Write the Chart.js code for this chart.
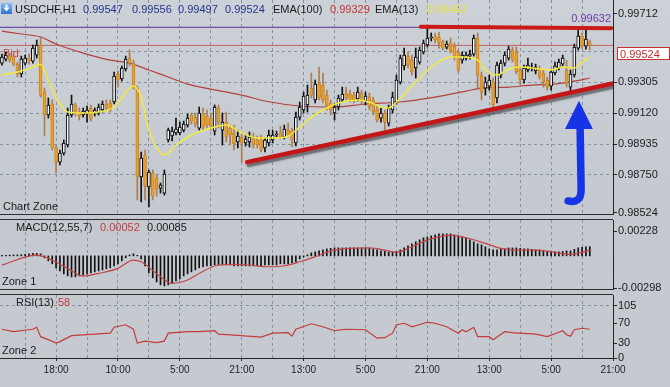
<!DOCTYPE html>
<html>
<head>
<meta charset="utf-8">
<title>USDCHF H1</title>
<script src="https://cdn.jsdelivr.net/npm/chart.js@4.4.1/dist/chart.umd.min.js"></script>
<style>
  html, body { margin:0; padding:0; }
  body { width:670px; height:387px; overflow:hidden; position:relative;
         background: linear-gradient(180deg, #ccd1d7 0%, #c4c9d0 55%, #c6cad0 100%); }
  canvas { position:absolute; left:0; }
</style>
</head>
<body>
<canvas id="mainChart" width="670" height="224" style="top:0"></canvas>
<canvas id="macdChart" width="670" height="80" style="top:216px"></canvas>
<canvas id="rsiChart" width="670" height="97" style="top:290px"></canvas>
<script>
const FONT = "'Liberation Sans', Arial, Helvetica, sans-serif";
const GRID = '#8792a3';
const AXIS = '#262626';

// ---------------- data ----------------
const symbolTitle = 'USDCHF,H1';
const openP = [0.99418,0.99442,0.99460,0.99454,0.99412,0.99353,0.99418,0.99448,0.99430,0.99466,
0.99526,0.99245,0.99108,0.99174,0.98911,0.98827,0.98881,0.98929,0.99108,0.99168,
0.99126,0.99108,0.99114,0.99150,0.99120,0.99120,0.99138,0.99174,0.99180,0.99186,
0.99353,0.99323,0.99383,0.99448,0.99418,0.99269,0.98738,0.98869,0.98678,0.98762,
0.98732,0.98672,0.98642,0.98959,0.98983,0.99001,0.99001,0.99018,0.99048,0.99108,
0.99096,0.99030,0.99114,0.99102,0.99090,0.99012,0.99150,0.99018,0.99066,0.99030,
0.99001,0.98947,0.98977,0.98941,0.98947,0.98971,0.98959,0.98971,0.98911,0.98941,
0.98959,0.98989,0.99001,0.98977,0.99018,0.99012,0.98941,0.99096,0.99138,0.99168,
0.99269,0.99198,0.99299,0.99287,0.99227,0.99180,0.99120,0.99156,0.99198,0.99239,
0.99233,0.99227,0.99204,0.99239,0.99192,0.99215,0.99198,0.99144,0.99090,0.99120,
0.99060,0.99138,0.99186,0.99305,0.99401,0.99460,0.99436,0.99389,0.99424,0.99484,
0.99526,0.99568,0.99580,0.99574,0.99544,0.99514,0.99538,0.99520,0.99484,0.99436,
0.99448,0.99460,0.99472,0.99568,0.99347,0.99269,0.99281,0.99305,0.99210,0.99347,
0.99418,0.99448,0.99496,0.99484,0.99377,0.99317,0.99377,0.99389,0.99371,0.99383,
0.99359,0.99317,0.99281,0.99359,0.99389,0.99412,0.99377,0.99275,0.99347,0.99508,
0.99580,0.99520,0.99547];
const highP = [0.99472,0.99484,0.99478,0.99466,0.99424,0.99460,0.99466,0.99472,0.99526,0.99556,
0.99574,0.99269,0.99210,0.99198,0.98929,0.98899,0.98959,0.99150,0.99227,0.99180,
0.99150,0.99150,0.99162,0.99168,0.99150,0.99174,0.99192,0.99198,0.99198,0.99365,
0.99371,0.99401,0.99460,0.99496,0.99436,0.99281,0.98887,0.98899,0.98780,0.98780,
0.98750,0.98702,0.98780,0.99030,0.99036,0.99090,0.99066,0.99072,0.99114,0.99120,
0.99120,0.99156,0.99150,0.99138,0.99120,0.99168,0.99168,0.99120,0.99126,0.99048,
0.99048,0.99018,0.99001,0.98989,0.99007,0.99001,0.98983,0.98989,0.98971,0.99018,
0.99018,0.99012,0.99042,0.99048,0.99060,0.99030,0.99126,0.99186,0.99245,0.99287,
0.99359,0.99317,0.99395,0.99359,0.99257,0.99198,0.99174,0.99227,0.99275,0.99275,
0.99257,0.99245,0.99275,0.99257,0.99245,0.99239,0.99215,0.99168,0.99150,0.99138,
0.99168,0.99245,0.99347,0.99466,0.99508,0.99484,0.99466,0.99508,0.99514,0.99556,
0.99627,0.99598,0.99598,0.99603,0.99556,0.99550,0.99568,0.99538,0.99496,0.99484,
0.99484,0.99496,0.99586,0.99598,0.99365,0.99335,0.99347,0.99329,0.99424,0.99436,
0.99484,0.99520,0.99514,0.99514,0.99395,0.99406,0.99448,0.99418,0.99412,0.99401,
0.99377,0.99335,0.99377,0.99424,0.99442,0.99466,0.99436,0.99377,0.99532,0.99632,
0.99598,0.99621,0.99556];
const lowP = [0.99406,0.99430,0.99424,0.99401,0.99335,0.99335,0.99406,0.99412,0.99418,0.99448,
0.99215,0.98983,0.99090,0.98899,0.98762,0.98810,0.98869,0.98917,0.99096,0.99102,
0.99078,0.99096,0.99066,0.99072,0.99102,0.99108,0.99126,0.99138,0.99126,0.99174,
0.99275,0.99311,0.99371,0.99401,0.99263,0.98601,0.98589,0.98601,0.98559,0.98601,
0.98624,0.98642,0.98630,0.98947,0.98953,0.98989,0.98989,0.99007,0.99036,0.99054,
0.99036,0.99018,0.99018,0.99030,0.99018,0.98989,0.99030,0.98929,0.98947,0.98929,
0.98899,0.98911,0.98827,0.98923,0.98917,0.98911,0.98911,0.98887,0.98887,0.98923,
0.98941,0.98977,0.98965,0.98965,0.98977,0.98917,0.98923,0.99078,0.99120,0.99126,
0.99210,0.99180,0.99198,0.99180,0.99138,0.99108,0.99078,0.99138,0.99186,0.99198,
0.99186,0.99180,0.99192,0.99174,0.99168,0.99138,0.99108,0.99066,0.99066,0.99018,
0.99042,0.99120,0.99174,0.99293,0.99377,0.99389,0.99347,0.99329,0.99412,0.99472,
0.99514,0.99550,0.99538,0.99508,0.99496,0.99502,0.99478,0.99436,0.99365,0.99418,
0.99436,0.99442,0.99460,0.99269,0.99198,0.99227,0.99257,0.99150,0.99180,0.99329,
0.99401,0.99436,0.99424,0.99353,0.99287,0.99299,0.99365,0.99371,0.99353,0.99323,
0.99275,0.99257,0.99257,0.99347,0.99377,0.99401,0.99275,0.99245,0.99335,0.99496,
0.99508,0.99502,0.99497];
const closeP = [0.99454,0.99466,0.99436,0.99412,0.99353,0.99442,0.99448,0.99430,0.99508,0.99526,
0.99227,0.99108,0.99168,0.98911,0.98827,0.98881,0.98941,0.99108,0.99174,0.99120,
0.99102,0.99132,0.99138,0.99084,0.99138,0.99156,0.99174,0.99150,0.99138,0.99341,
0.99317,0.99389,0.99442,0.99418,0.99275,0.98738,0.98851,0.98684,0.98768,0.98624,
0.98666,0.98690,0.98756,0.99018,0.99012,0.99024,0.99036,0.99054,0.99090,0.99072,
0.99054,0.99120,0.99036,0.99048,0.99042,0.99156,0.99066,0.99066,0.98977,0.98989,
0.98935,0.98983,0.98941,0.98965,0.98977,0.98929,0.98929,0.98899,0.98959,0.98989,
0.98989,0.98995,0.98977,0.99024,0.98989,0.98959,0.99096,0.99156,0.99221,0.99227,
0.99227,0.99293,0.99210,0.99198,0.99162,0.99138,0.99156,0.99210,0.99233,0.99210,
0.99198,0.99198,0.99245,0.99192,0.99221,0.99156,0.99126,0.99078,0.99120,0.99066,
0.99150,0.99215,0.99317,0.99448,0.99466,0.99406,0.99365,0.99454,0.99496,0.99538,
0.99568,0.99574,0.99556,0.99538,0.99508,0.99532,0.99490,0.99454,0.99377,0.99466,
0.99466,0.99472,0.99568,0.99347,0.99245,0.99305,0.99317,0.99168,0.99406,0.99418,
0.99466,0.99502,0.99436,0.99365,0.99317,0.99389,0.99406,0.99395,0.99395,0.99335,
0.99305,0.99275,0.99365,0.99401,0.99424,0.99448,0.99299,0.99353,0.99514,0.99580,
0.99520,0.99562,0.99524];

// EMA(100) and EMA(13) read at sample bars
const ema100Idx = [0,5,10,14,21,28,33,38,43,48,54,62,68,77,86,94,103,112,120,124,131,137,143,148,152];
const ema100Val = [0.99609,0.99592,0.99574,0.99532,0.99478,0.99436,0.99418,0.99377,0.99335,0.99293,0.99263,0.99227,0.99192,0.99162,0.99156,0.99174,0.99186,0.99215,0.99251,0.99269,0.99275,0.99287,0.99293,0.99311,0.99329];
const ema13Idx = [0,4,8,10,12,14,17,21,25,29,33,34,36,38,42,45,49,55,58,62,66,71,74,77,80,84,87,92,95,98,100,103,107,111,116,119,123,125,128,131,134,137,142,145,148,150,152];
const ema13Val = [0.99347,0.99365,0.99395,0.99412,0.99317,0.99215,0.99126,0.99120,0.99126,0.99156,0.99269,0.99281,0.99215,0.99018,0.98869,0.98929,0.98989,0.99036,0.99048,0.99001,0.98971,0.98971,0.98983,0.99036,0.99096,0.99150,0.99180,0.99198,0.99186,0.99156,0.99150,0.99209,0.99305,0.99395,0.99454,0.99454,0.99436,0.99377,0.99347,0.99383,0.99395,0.99389,0.99377,0.99395,0.99389,0.99424,0.99452];

// levels and drawn lines (bar index, price)
const bidPrice = 0.99524;
const highLevel = 0.99632;
const resistIdx = [108.3, 157.5];
const resistVal = [0.99635, 0.99626];
const supportIdx = [63.4, 158];
const supportVal = [0.98827, 0.99296];
// blue arrow annotation (bar index, price)
const arrowTip = [149.2, 0.99193];
const arrowBase = [145.6, 152.8, 0.99024];
const arrowShaft = [149.5, 0.99030, 0.98660, 146.4, 0.98595];

// MACD(12,55,7)
const macdHist = [0.00005,0.00005,0.00007,0.00009,0.00009,0.00011,0.00014,0.00018,0.00023,0.00023,
0.00018,-0.00018,-0.00046,-0.00073,-0.0011,-0.00138,-0.00165,-0.00184,-0.00193,-0.00193,
-0.00184,-0.00174,-0.00165,-0.00156,-0.00147,-0.00138,-0.00129,-0.00119,-0.0011,-0.00092,
-0.00073,-0.00046,-0.00018,0.00009,0.00018,0.00005,-0.00028,-0.00092,-0.00156,-0.00202,
-0.00239,-0.00266,-0.00275,-0.00266,-0.00248,-0.0023,-0.00211,-0.00184,-0.00165,-0.00147,
-0.00129,-0.0011,-0.00101,-0.00092,-0.00092,-0.00083,-0.00083,-0.00083,-0.00083,-0.00083,
-0.00092,-0.00092,-0.00092,-0.00092,-0.00092,-0.00092,-0.00092,-0.00092,-0.00083,-0.00083,
-0.00083,-0.00083,-0.00073,-0.00073,-0.00073,-0.00064,-0.00055,-0.00028,-0.00009,0.00009,
0.00028,0.00037,0.00046,0.00055,0.00064,0.00069,0.00073,0.00073,0.00073,0.00073,
0.00073,0.00073,0.00073,0.00073,0.00073,0.00069,0.00064,0.00055,0.00046,0.00041,
0.00037,0.00037,0.00041,0.00055,0.00073,0.00092,0.0011,0.00129,0.00147,0.00165,
0.00174,0.00184,0.00193,0.00202,0.00202,0.00202,0.00202,0.00193,0.00184,0.00174,
0.00165,0.00147,0.00129,0.0011,0.00101,0.00083,0.00064,0.00055,0.00055,0.00064,
0.00064,0.00073,0.00073,0.00073,0.00069,0.00064,0.00064,0.0006,0.00055,0.00055,
0.00046,0.00041,0.00037,0.00037,0.00037,0.00041,0.00046,0.00046,0.0006,0.00073,
0.00078,0.00083,0.00085];
const macdSigIdx = [0,9,12,17,21,25,30,34,36,41,44,48,51,56,60,64,69,73,77,81,86,95,99,102,106,110,116,120,125,129,133,138,142,147,152];
const macdSigVal = [-0.00084,0.00007,-0.00023,-0.00115,-0.00185,-0.00161,-0.00115,-0.00039,-0.00054,-0.00192,-0.00252,-0.00222,-0.00161,-0.00084,-0.00078,-0.00084,-0.00100,-0.00091,-0.00054,-0.00008,0.00055,0.00074,0.00053,0.00032,0.00084,0.00145,0.00191,0.00166,0.00115,0.00069,0.00053,0.00053,0.00038,0.00014,0.00052];

// RSI(13)
const rsiIdx = [0,3,8,9,10,12,14,15,18,22,28,29,32,34,35,37,40,42,43,48,51,55,56,60,67,70,74,75,76,80,83,86,89,94,97,99,101,102,104,106,110,112,115,118,119,120,122,123,126,127,130,133,134,138,141,144,145,146,147,148,150,152];
const rsiVal = [58,53,58,62,43,37,30,33,45,47,50,62,67,58,30,34,31,34,50,53,53,55,48,46,42,50,51,44,58,69,63,55,58,57,40,41,50,67,70,63,72,70,63,50,57,53,62,43,43,37,53,50,50,48,43,52,55,47,44,57,60,58];

// axes
const xGridIdx = [6,14,22,30,38,46,54,62,70,78,86,94,102,110,118,126,134,142,150,158];
const xTickPos = [14,30,46,62,78,94,110,126,142,158];
const xTickLabels = ['18:00','10:00','5:00','21:00','13:00','5:00','21:00','13:00','5:00','21:00'];
const priceTicks = [0.98524,0.98750,0.98935,0.99120,0.99305,0.99490,0.99712];
const priceGrid = [0.98750,0.98935,0.99120,0.99305,0.99490];
const priceHidden = [0.99490];
const macdTicks = [-0.00298,0.00228];
const rsiTicks = [0,30,70,105];
const rsiGrid = [105];

// ---------------- helpers ----------------
const N = closeP.length, LAST = N - 1;
const X_MIN = -0.5, X_MAX = 158;
const bull = closeP.map((c, i) => c >= openP[i]);
const bars = closeP.map((_, i) => i);
const pts = (xs, ys) => xs.map((x, k) => ({x, y: ys[k]}));

function xAxis(show) {
  return {
    type: 'linear', min: X_MIN, max: X_MAX, offset: false,
    afterBuildTicks: s => { s.ticks = xGridIdx.map(v => ({value: v})); },
    ticks: { display: show, autoSkip: false, maxRotation: 0, padding: 3, color: '#1e1e1e',
             font: {family: FONT, size: 10},
             callback: v => { const k = xTickPos.indexOf(v); return k >= 0 ? xTickLabels[k] : ''; } },
    grid: { offset: false, color: c => (c.tick && c.tick.value < X_MAX) ? GRID : 'transparent',
            drawTicks: show, tickLength: 3,
            tickColor: c => (c.tick && xTickPos.includes(c.tick.value)) ? AXIS : 'transparent' },
    border: { display: show, color: AXIS, dash: [3, 3] },
    afterFit: s => { s.height = show ? 20 : 0; s.paddingLeft = 0; s.paddingRight = 0; }
  };
}
function yAxis(min, max, ticks, gridVals, hidden, fmt) {
  const shown = v => !hidden.includes(v);
  return {
    type: 'linear', position: 'right', min, max,
    afterBuildTicks: s => { s.ticks = ticks.map(v => ({value: v})); },
    ticks: { autoSkip: false, color: '#1b1b1b', font: {family: FONT, size: 11}, padding: 1,
             callback: v => shown(v) ? fmt(v) : '' },
    grid: { color: c => (c.tick && gridVals.includes(c.tick.value)) ? GRID : 'transparent',
            drawTicks: true, tickLength: 4,
            tickColor: c => (c.tick && shown(c.tick.value)) ? AXIS : 'transparent' },
    border: { display: true, color: AXIS, dash: [3, 3] },
    afterFit: s => { s.width = 57; s.paddingTop = 0; s.paddingBottom = 0; }
  };
}
const baseOpts = () => ({
  responsive: false, animation: false, devicePixelRatio: 1, events: [],
  plugins: { legend: {display: false}, tooltip: {enabled: false} }
});
function hline(ctx, y, x0, x1, color) {
  ctx.save(); ctx.strokeStyle = color; ctx.lineWidth = 1;
  ctx.beginPath(); ctx.moveTo(x0, Math.round(y) + 0.5); ctx.lineTo(x1, Math.round(y) + 0.5); ctx.stroke(); ctx.restore();
}
function txt(ctx, s, x, y, color, size, align) {
  ctx.save(); ctx.font = (size || 11) + 'px ' + FONT; ctx.fillStyle = color;
  ctx.textAlign = align || 'left'; ctx.textBaseline = 'alphabetic'; ctx.fillText(s, x, y); ctx.restore();
}

// ---------------- main chart ----------------
const mainDecor = {
  id: 'mainDecor',
  beforeDatasetsDraw(chart) {
    const y = chart.scales.y;
    txt(chart.ctx, 'Bid', 3, y.getPixelForValue(bidPrice) + 12, '#d03a3a', 11);
  },
  beforeDatasetDraw(chart, args) {
    const ds = chart.data.datasets[args.index];
    if (ds.shadow) { const c = chart.ctx; c.save(); c.shadowColor = ds.shadow; c.shadowOffsetX = 1.5; c.shadowOffsetY = 3; c.shadowBlur = 1.5; }
  },
  afterDatasetDraw(chart, args) {
    const ds = chart.data.datasets[args.index];
    if (ds.shadow) chart.ctx.restore();
  },
  afterDraw(chart) {
    const ctx = chart.ctx, x = chart.scales.x, y = chart.scales.y, a = chart.chartArea;
    hline(ctx, a.bottom, 0, a.right, '#2e2e2e');
    // header icon
    ctx.save();
    const g = ctx.createLinearGradient(0, 3, 0, 14);
    g.addColorStop(0, '#8cbcf2'); g.addColorStop(1, '#2f6fcf');
    ctx.fillStyle = g; ctx.fillRect(1, 3, 11, 11);
    ctx.fillStyle = '#ffffff';
    ctx.fillRect(5.5, 4.5, 2, 3);
    ctx.beginPath(); ctx.moveTo(3.5, 7.5); ctx.lineTo(9.5, 7.5); ctx.lineTo(6.5, 11.5); ctx.closePath(); ctx.fill();
    ctx.restore();
    // header text
    txt(ctx, symbolTitle, 15, 13, '#1a1a1a');
    const ohlc = [openP[LAST], highP[LAST], lowP[LAST], closeP[LAST]];
    [83, 132, 178, 225].forEach((px, k) => txt(ctx, ohlc[k].toFixed(5), px, 13, '#25338e'));
    txt(ctx, 'EMA(100)', 273, 13, '#1a1a1a');
    txt(ctx, ema100Val[ema100Val.length - 1].toFixed(5), 330, 13, '#c83232');
    txt(ctx, 'EMA(13)', 375, 13, '#1a1a1a');
    txt(ctx, ema13Val[ema13Val.length - 1].toFixed(5), 427, 13, '#e8e23a');
    // high label
    txt(ctx, highLevel.toFixed(5), 611, y.getPixelForValue(highLevel) - 5, '#6a3aa8', 11, 'right');
    // bid box
    const by = Math.round(y.getPixelForValue(bidPrice)) + 2;
    ctx.save(); ctx.fillStyle = '#ffffff'; ctx.fillRect(617, by, 53, 13);
    ctx.strokeStyle = '#c83232'; ctx.lineWidth = 1; ctx.strokeRect(617.5, by + 0.5, 52, 12); ctx.restore();
    txt(ctx, bidPrice.toFixed(5), 620, by + 11, '#c82a2a', 11);
    // blue arrow
    ctx.save();
    ctx.fillStyle = '#1634e6'; ctx.strokeStyle = '#1634e6';
    ctx.beginPath();
    ctx.moveTo(x.getPixelForValue(arrowTip[0]), y.getPixelForValue(arrowTip[1]));
    ctx.lineTo(x.getPixelForValue(arrowBase[1]), y.getPixelForValue(arrowBase[2]));
    ctx.lineTo(x.getPixelForValue(arrowBase[0]), y.getPixelForValue(arrowBase[2]));
    ctx.closePath(); ctx.fill();
    ctx.lineWidth = 7.5; ctx.lineCap = 'round';
    const sx = x.getPixelForValue(arrowShaft[0]);
    ctx.beginPath();
    ctx.moveTo(sx, y.getPixelForValue(arrowShaft[1]));
    ctx.lineTo(sx + 1, y.getPixelForValue(arrowShaft[2]));
    ctx.quadraticCurveTo(sx + 1, y.getPixelForValue(arrowShaft[4]) + 3,
                         x.getPixelForValue(arrowShaft[3]), y.getPixelForValue(arrowShaft[4]));
    ctx.stroke();
    ctx.restore();
    txt(ctx, 'Chart Zone', 3, a.bottom - 4, '#1a1a1a');
  }
};

new Chart(document.getElementById('mainChart'), {
  type: 'bar',
  data: { datasets: [
    { type: 'line', label: 'high', data: [{x: X_MIN, y: highLevel}, {x: X_MAX, y: highLevel}],
      borderColor: '#5b2d9e', borderWidth: 1, pointRadius: 0, order: 12 },
    { type: 'line', label: 'bid', data: [{x: X_MIN, y: bidPrice}, {x: X_MAX, y: bidPrice}],
      borderColor: '#c26060', borderWidth: 1, pointRadius: 0, order: 11 },
    { type: 'line', label: 'EMA(100)', data: pts(ema100Idx, ema100Val),
      borderColor: '#b3403f', borderWidth: 1.2, pointRadius: 0, tension: 0.4, cubicInterpolationMode: 'monotone', order: 10 },
    { type: 'bar', label: 'wick', data: bars.map(i => ({x: i, y: [lowP[i], highP[i]]})),
      backgroundColor: bull.map(b => b ? '#111111' : '#b07c48'), borderWidth: 0,
      barThickness: 1, grouped: false, order: 9 },
    { type: 'bar', label: 'body', data: bars.map(i => ({x: i, y: [openP[i], closeP[i]]})),
      backgroundColor: bull.map(b => b ? '#f1f3f5' : '#e9a22c'),
      borderColor: bull.map(b => b ? '#000000' : '#c98424'),
      borderWidth: 1, borderSkipped: false, barThickness: 3, minBarLength: 1, grouped: false, order: 8 },
    { type: 'line', label: 'EMA(13)', data: pts(ema13Idx, ema13Val),
      borderColor: '#f2ea3c', borderWidth: 1.5, pointRadius: 0, tension: 0.4, cubicInterpolationMode: 'monotone', order: 7 },
    { type: 'line', label: 'resistance', data: pts(resistIdx, resistVal),
      borderColor: '#cc1a1a', borderWidth: 4, borderCapStyle: 'round', pointRadius: 0, order: 2 },
    { type: 'line', label: 'support', data: pts(supportIdx, supportVal), shadow: 'rgba(50,50,55,0.6)',
      borderColor: '#c41616', borderWidth: 4.5, borderCapStyle: 'round', pointRadius: 0, order: 1 }
  ]},
  options: Object.assign(baseOpts(), {
    layout: { padding: {top: 0, bottom: 10, left: 0, right: 0} },
    scales: {
      x: xAxis(false),
      y: yAxis(0.98517, 0.99795, priceTicks, priceGrid, priceHidden, v => v.toFixed(5))
    }
  }),
  plugins: [mainDecor]
});

// ---------------- MACD ----------------
const macdDecor = {
  id: 'macdDecor',
  afterDraw(chart) {
    const ctx = chart.ctx, a = chart.chartArea;
    hline(ctx, a.top - 1, 0, a.right, '#2e2e2e');
    hline(ctx, a.bottom, 0, a.right, '#2e2e2e');
    txt(ctx, 'MACD(12,55,7)', 16, a.top + 11, '#1a1a1a');
    txt(ctx, macdSigVal[macdSigVal.length - 1].toFixed(5), 100, a.top + 11, '#c83c3c');
    txt(ctx, macdHist[LAST].toFixed(5), 147, a.top + 11, '#1a1a1a');
    txt(ctx, 'Zone 1', 2, a.bottom - 4, '#1a1a1a');
  }
};
new Chart(document.getElementById('macdChart'), {
  type: 'bar',
  data: { datasets: [
    { type: 'bar', label: 'MACD', data: bars.map(i => ({x: i, y: macdHist[i]})),
      backgroundColor: '#111111', barThickness: 1, grouped: false, order: 2 },
    { type: 'line', label: 'Signal', data: pts(macdSigIdx, macdSigVal),
      borderColor: '#c24444', borderWidth: 1.2, pointRadius: 0, tension: 0.4, cubicInterpolationMode: 'monotone', order: 1 }
  ]},
  options: Object.assign(baseOpts(), {
    layout: { padding: {top: 4, bottom: 7, left: 0, right: 0} },
    scales: {
      x: xAxis(false),
      y: yAxis(-0.00304, 0.00329, macdTicks, [], [], v => v.toFixed(5))
    }
  }),
  plugins: [macdDecor]
});

// ---------------- RSI ----------------
const rsiDecor = {
  id: 'rsiDecor',
  afterDraw(chart) {
    const ctx = chart.ctx, a = chart.chartArea;
    hline(ctx, a.top - 1, 0, a.right, '#2e2e2e');
    txt(ctx, 'RSI(13)', 16, a.top + 11, '#1a1a1a');
    txt(ctx, String(rsiVal[rsiVal.length - 1]), 58, a.top + 11, '#c83c3c');
    txt(ctx, 'Zone 2', 2, a.bottom - 4, '#1a1a1a');
  }
};
new Chart(document.getElementById('rsiChart'), {
  type: 'line',
  data: { datasets: [
    { label: 'RSI(13)', data: pts(rsiIdx, rsiVal), borderColor: '#c23c3c', borderWidth: 1.2, pointRadius: 0, tension: 0 }
  ]},
  options: Object.assign(baseOpts(), {
    layout: { padding: {top: 5, bottom: 9, left: 0, right: 0} },
    scales: {
      x: xAxis(true),
      y: yAxis(0, 127, rsiTicks, rsiGrid, [], v => String(v))
    }
  }),
  plugins: [rsiDecor]
});
</script>
</body>
</html>
